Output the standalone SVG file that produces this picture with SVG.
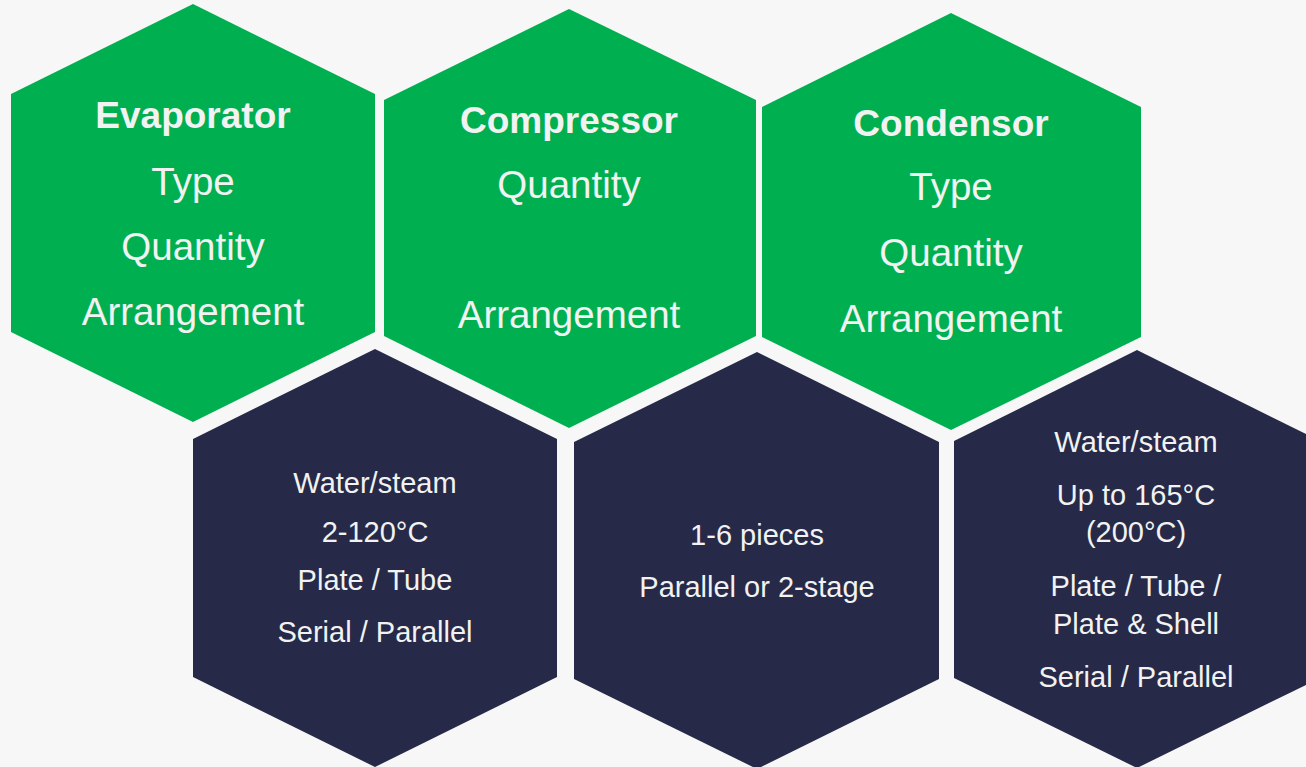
<svg xmlns="http://www.w3.org/2000/svg" width="1306" height="767" viewBox="0 0 1306 767">
<style>
.g{fill:#00b050}
.d{fill:#262a48}
text{font-family:"Liberation Sans",Arial,sans-serif;fill:#f2f2f2;text-anchor:middle}
.t{font-weight:bold;font-size:37px}
.l{font-size:38.5px}
.s{font-size:29px}
</style>
<rect width="1306" height="767" fill="#f7f7f7"/>
<g id="connectors"></g>
<g id="evaporator">
<polygon class="g" points="193,4 375,94 375,332 193,422 11,332 11,94"/>
<text class="t" x="193" y="128">Evaporator</text>
<text class="l" x="193" y="195">Type</text>
<text class="l" x="193" y="260">Quantity</text>
<text class="l" x="193" y="325">Arrangement</text>
</g>
<g id="compressor">
<polygon class="g" points="569,9 756,100 756,336 569,428 384,336 384,100"/>
<text class="t" x="569" y="133">Compressor</text>
<text class="l" x="569" y="198">Quantity</text>
<text class="l" x="569" y="328">Arrangement</text>
</g>
<g id="condensor">
<polygon class="g" points="951,13 1141,107 1141,337 951,430 762,337 762,107"/>
<text class="t" x="951" y="136">Condensor</text>
<text class="l" x="951" y="200">Type</text>
<text class="l" x="951" y="266">Quantity</text>
<text class="l" x="951" y="332">Arrangement</text>
</g>
<g id="evaporator-details">
<polygon class="d" points="375,349 557,439 557,677 375,767 193,677 193,439"/>
<text class="s" x="375" y="493">Water/steam</text>
<text class="s" x="375" y="542">2-120°C</text>
<text class="s" x="375" y="590">Plate / Tube</text>
<text class="s" x="375" y="642">Serial / Parallel</text>
</g>
<g id="compressor-details">
<polygon class="d" points="757,352 939,442 939,679 757,769 574,679 574,442"/>
<text class="s" x="757" y="545">1-6 pieces</text>
<text class="s" x="757" y="597">Parallel or 2-stage</text>
</g>
<g id="condensor-details">
<polygon class="d" points="1137,350 1320,441 1320,678 1137,768 954,678 954,441"/>
<text class="s" x="1136" y="452">Water/steam</text>
<text class="s" x="1136" y="505">Up to 165°C</text>
<text class="s" x="1136" y="542">(200°C)</text>
<text class="s" x="1136" y="596">Plate / Tube /</text>
<text class="s" x="1136" y="634">Plate &amp; Shell</text>
<text class="s" x="1136" y="687">Serial / Parallel</text>
</g>
</svg>
